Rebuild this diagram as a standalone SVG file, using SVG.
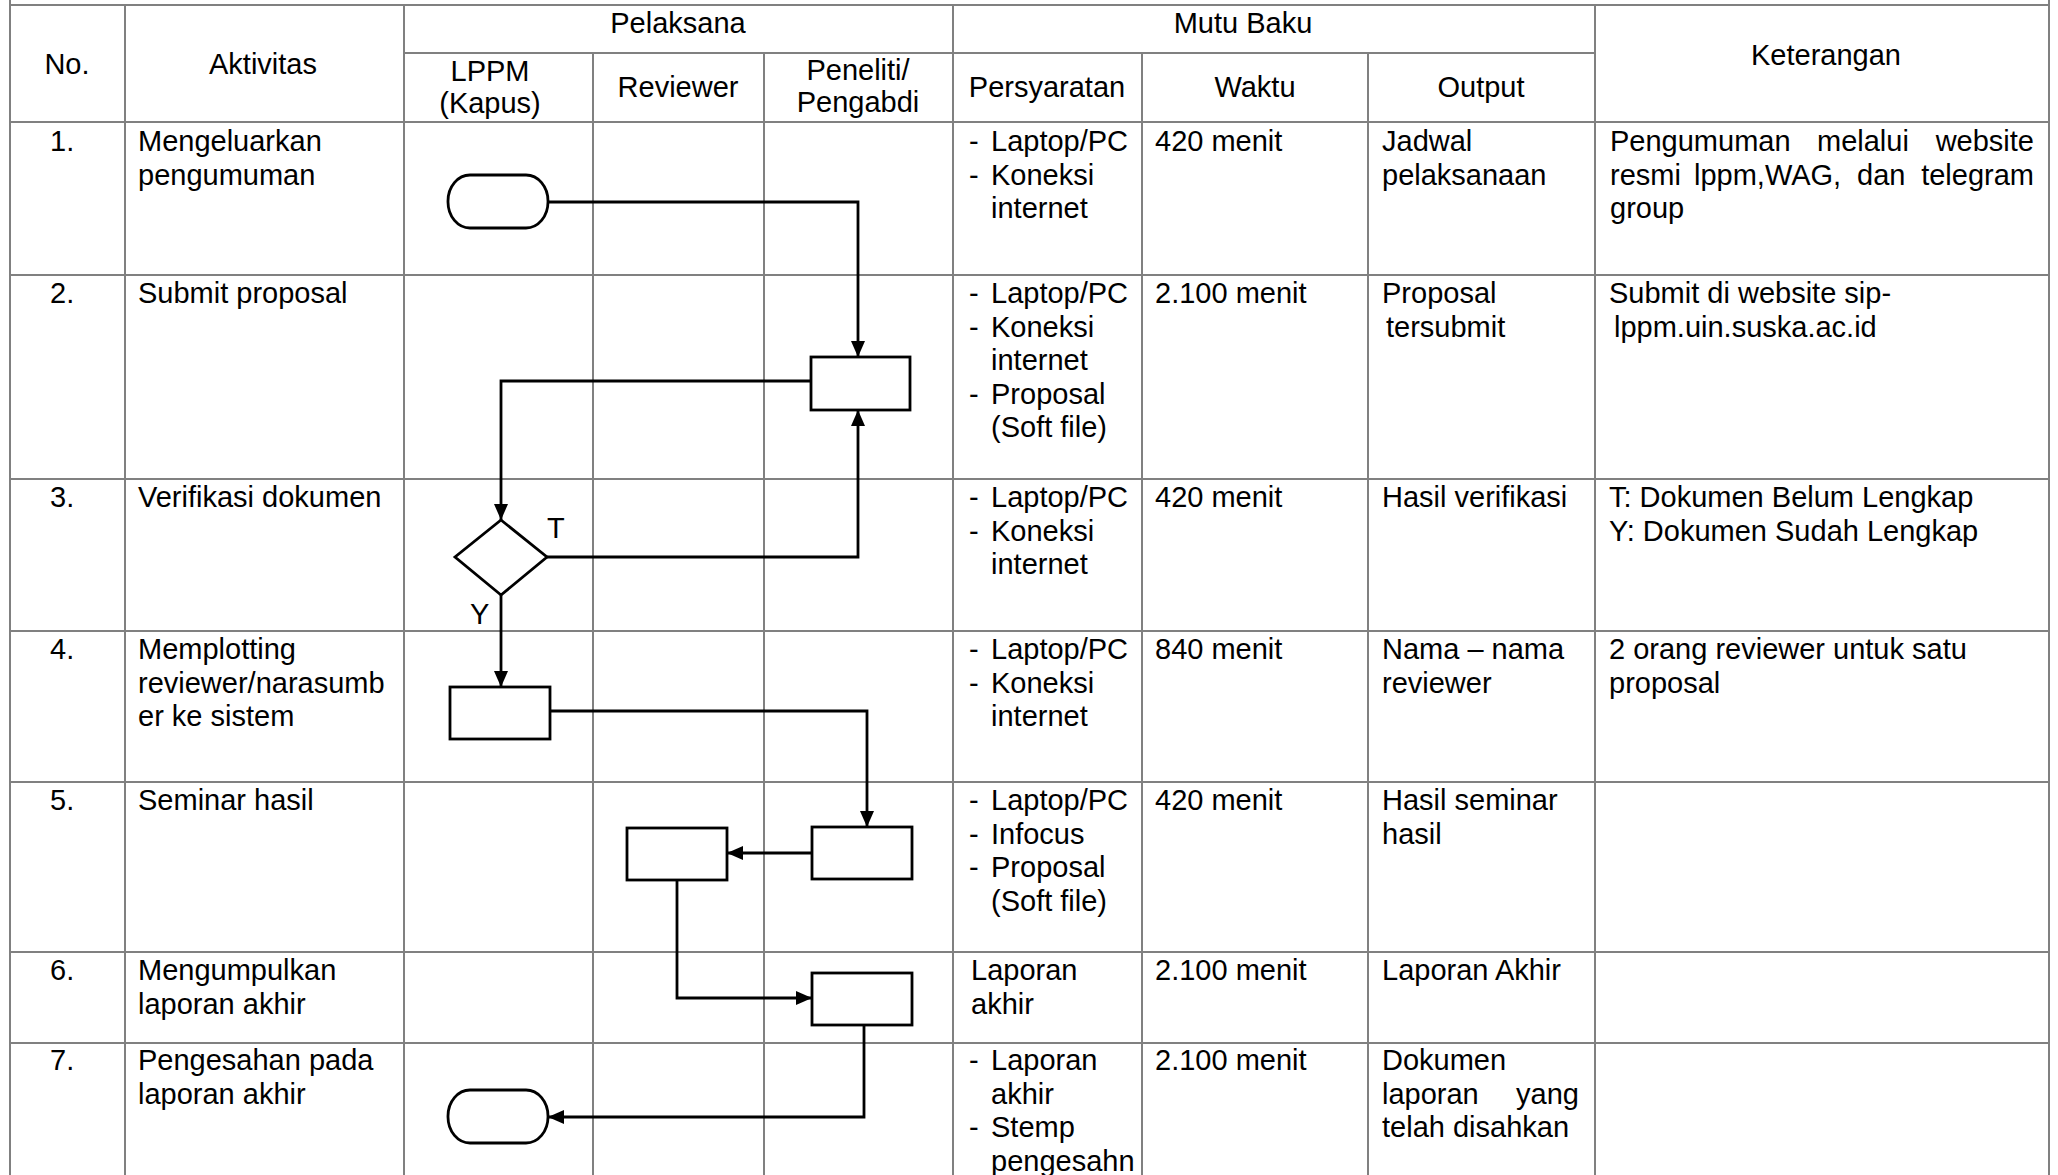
<svg xmlns="http://www.w3.org/2000/svg" width="2058" height="1175" viewBox="0 0 2058 1175">
<style>
text{font-family:"Liberation Sans",Arial,sans-serif;font-size:29px;fill:#000}
.c{text-anchor:middle}
.e{text-anchor:end}
.grid line{stroke:#808080;stroke-width:2}
.shape{fill:#fff;stroke:#000;stroke-width:2.8}
.conn path{fill:none;stroke:#000;stroke-width:2.8}
</style>
<defs>
<marker id="ah" markerUnits="userSpaceOnUse" markerWidth="17" markerHeight="15" refX="16" refY="7" orient="auto">
<path d="M0,0 L16,7 L0,14 z" fill="#000"/>
</marker>
</defs>
<rect width="2058" height="1175" fill="#fff"/>
<g class="grid">
<line x1="10" y1="5" x2="2049" y2="5"/>
<line x1="404" y1="53" x2="1595" y2="53"/>
<line x1="10" y1="122" x2="2049" y2="122"/>
<line x1="10" y1="275" x2="2049" y2="275"/>
<line x1="10" y1="479" x2="2049" y2="479"/>
<line x1="10" y1="631" x2="2049" y2="631"/>
<line x1="10" y1="782" x2="2049" y2="782"/>
<line x1="10" y1="952" x2="2049" y2="952"/>
<line x1="10" y1="1043" x2="2049" y2="1043"/>
<line x1="10" y1="0" x2="10" y2="1175"/>
<line x1="125" y1="5" x2="125" y2="1175"/>
<line x1="404" y1="5" x2="404" y2="1175"/>
<line x1="593" y1="53" x2="593" y2="1175"/>
<line x1="764" y1="53" x2="764" y2="1175"/>
<line x1="953" y1="5" x2="953" y2="1175"/>
<line x1="1142" y1="53" x2="1142" y2="1175"/>
<line x1="1368" y1="53" x2="1368" y2="1175"/>
<line x1="1595" y1="5" x2="1595" y2="1175"/>
<line x1="2049" y1="0" x2="2049" y2="1175"/>
</g>
<g id="header">
<text class="c" x="67" y="74">No.</text>
<text class="c" x="263" y="74">Aktivitas</text>
<text class="c" x="678" y="33">Pelaksana</text>
<text class="c" x="1243" y="33">Mutu Baku</text>
<text class="c" x="1826" y="65">Keterangan</text>
<text class="c" x="490" y="81">LPPM</text>
<text class="c" x="490" y="113">(Kapus)</text>
<text class="c" x="678" y="97">Reviewer</text>
<text class="c" x="858" y="80">Peneliti/</text>
<text class="c" x="858" y="112">Pengabdi</text>
<text class="c" x="1047" y="97">Persyaratan</text>
<text class="c" x="1255" y="97">Waktu</text>
<text class="c" x="1481" y="97">Output</text>
</g>
<g id="row1">
<text x="50" y="151">1.</text>
<text x="138" y="151">Mengeluarkan</text>
<text x="138" y="184.5">pengumuman</text>
<text x="969" y="151">-</text><text x="991" y="151">Laptop/PC</text>
<text x="969" y="184.5">-</text><text x="991" y="184.5">Koneksi</text>
<text x="991" y="218">internet</text>
<text x="1155" y="151">420 menit</text>
<text x="1382" y="151">Jadwal</text>
<text x="1382" y="184.5">pelaksanaan</text>
<text x="1610" y="151">Pengumuman</text><text x="1817" y="151">melalui</text><text class="e" x="2034" y="151">website</text>
<text x="1610" y="184.5">resmi</text><text x="1694" y="184.5">lppm,WAG,</text><text x="1857" y="184.5">dan</text><text class="e" x="2034" y="184.5">telegram</text>
<text x="1610" y="218">group</text>
</g>
<g id="row2">
<text x="50" y="303">2.</text>
<text x="138" y="303">Submit proposal</text>
<text x="969" y="303">-</text><text x="991" y="303">Laptop/PC</text>
<text x="969" y="336.5">-</text><text x="991" y="336.5">Koneksi</text>
<text x="991" y="370">internet</text>
<text x="969" y="403.5">-</text><text x="991" y="403.5">Proposal</text>
<text x="991" y="437">(Soft file)</text>
<text x="1155" y="303">2.100 menit</text>
<text x="1382" y="303">Proposal</text>
<text x="1386" y="336.5">tersubmit</text>
<text x="1609" y="303">Submit di website sip-</text>
<text x="1614" y="336.5">lppm.uin.suska.ac.id</text>
</g>
<g id="row3">
<text x="50" y="507">3.</text>
<text x="138" y="507">Verifikasi dokumen</text>
<text x="969" y="507">-</text><text x="991" y="507">Laptop/PC</text>
<text x="969" y="540.5">-</text><text x="991" y="540.5">Koneksi</text>
<text x="991" y="574">internet</text>
<text x="1155" y="507">420 menit</text>
<text x="1382" y="507">Hasil verifikasi</text>
<text x="1609" y="507">T: Dokumen Belum Lengkap</text>
<text x="1609" y="540.5">Y: Dokumen Sudah Lengkap</text>
</g>
<g id="row4">
<text x="50" y="659">4.</text>
<text x="138" y="659">Memplotting</text>
<text x="138" y="692.5">reviewer/narasumb</text>
<text x="138" y="726">er ke sistem</text>
<text x="969" y="659">-</text><text x="991" y="659">Laptop/PC</text>
<text x="969" y="692.5">-</text><text x="991" y="692.5">Koneksi</text>
<text x="991" y="726">internet</text>
<text x="1155" y="659">840 menit</text>
<text x="1382" y="659">Nama – nama</text>
<text x="1382" y="692.5">reviewer</text>
<text x="1609" y="659">2 orang reviewer untuk satu</text>
<text x="1609" y="692.5">proposal</text>
</g>
<g id="row5">
<text x="50" y="810">5.</text>
<text x="138" y="810">Seminar hasil</text>
<text x="969" y="810">-</text><text x="991" y="810">Laptop/PC</text>
<text x="969" y="843.5">-</text><text x="991" y="843.5">Infocus</text>
<text x="969" y="877">-</text><text x="991" y="877">Proposal</text>
<text x="991" y="910.5">(Soft file)</text>
<text x="1155" y="810">420 menit</text>
<text x="1382" y="810">Hasil seminar</text>
<text x="1382" y="843.5">hasil</text>
</g>
<g id="row6">
<text x="50" y="980">6.</text>
<text x="138" y="980">Mengumpulkan</text>
<text x="138" y="1013.5">laporan akhir</text>
<text x="971" y="980">Laporan</text>
<text x="971" y="1013.5">akhir</text>
<text x="1155" y="980">2.100 menit</text>
<text x="1382" y="980">Laporan Akhir</text>
</g>
<g id="row7">
<text x="50" y="1070">7.</text>
<text x="138" y="1070">Pengesahan pada</text>
<text x="138" y="1103.5">laporan akhir</text>
<text x="969" y="1070">-</text><text x="991" y="1070">Laporan</text>
<text x="991" y="1103.5">akhir</text>
<text x="969" y="1137">-</text><text x="991" y="1137">Stemp</text>
<text x="991" y="1170.5">pengesahn</text>
<text x="1155" y="1070">2.100 menit</text>
<text x="1382" y="1070">Dokumen</text>
<text x="1382" y="1103.5">laporan</text><text class="e" x="1579" y="1103.5">yang</text>
<text x="1382" y="1137">telah disahkan</text>
</g>
<g class="conn" id="connectors">
<path d="M548,202 H858 V357" marker-end="url(#ah)"/>
<path d="M811,381 H501 V520" marker-end="url(#ah)"/>
<path d="M547,557 H858 V410" marker-end="url(#ah)"/>
<path d="M501,595 V687" marker-end="url(#ah)"/>
<path d="M550,711 H867 V827" marker-end="url(#ah)"/>
<path d="M812,853 H727" marker-end="url(#ah)"/>
<path d="M677,880 V998 H812" marker-end="url(#ah)"/>
<path d="M864,1025 V1117 H548" marker-end="url(#ah)"/>
</g>
<g id="start"><rect class="shape" x="448" y="175" width="100" height="53" rx="22" ry="26"/></g>
<g id="submit"><rect class="shape" x="811" y="357" width="99" height="53"/></g>
<g id="verify"><path class="shape" d="M501,520 L547,557 L501,595 L455,557 Z"/></g>
<g id="labelT"><text x="547" y="538">T</text></g>
<g id="labelY"><text x="470" y="624">Y</text></g>
<g id="plot"><rect class="shape" x="450" y="687" width="100" height="52"/></g>
<g id="seminarPeneliti"><rect class="shape" x="812" y="827" width="100" height="52"/></g>
<g id="seminarReviewer"><rect class="shape" x="627" y="828" width="100" height="52"/></g>
<g id="collect"><rect class="shape" x="812" y="973" width="100" height="52"/></g>
<g id="end"><rect class="shape" x="448" y="1090" width="100" height="53" rx="22" ry="26"/></g>
</svg>
